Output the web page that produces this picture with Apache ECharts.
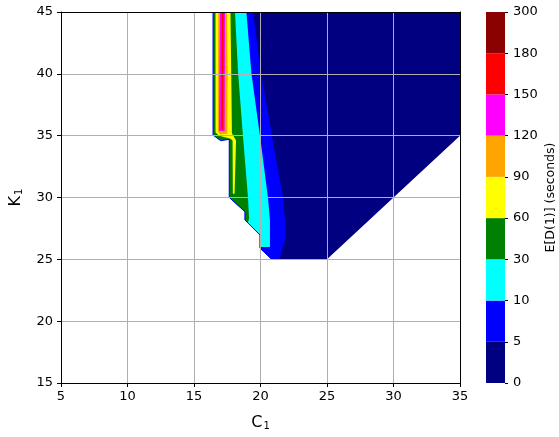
<!DOCTYPE html>
<html><head><meta charset="utf-8">
<script src="https://cdn.jsdelivr.net/npm/echarts@6/dist/echarts.min.js"></script>
<style>html,body{margin:0;padding:0;background:#fff}#c{width:559px;height:437px}</style>
</head><body><div id="c"></div>
<script>
// Colour levels of the filled contour (E[D(1)] in seconds)
const levelLabels = ['0','5','10','30','60','90','120','150','180','300'];
const bandColors = ['#000080','#0000ff','#00ffff','#008000','#ffff00','#ffa500','#ff00ff','#ff0000','#8b0000'];
const xTicks = [5,10,15,20,25,30,35];
const yTicks = [15,20,25,30,35,40,45];

// Feasible region (C1, K1) — outside it nothing is drawn
const domain = [[16.43,45],[16.43,35.05],[17.0,34.6],[17.65,34.7],[17.65,30.0],[18.83,28.85],[18.83,28.18],[19.96,26.97],[19.96,25.9],[20.84,25.0],[25,25],[35,35],[35,45]];
const leftEdge = domain.slice(0,10);

// Super-level sets: value >= 5, 10, 30, 60, 90, 120, 150
const band5   = [...leftEdge, [21.43,25],[21.6,25.75],[21.84,26.6],[21.84,28.2],[21.69,30],[20.86,35],[20.04,40],[19.44,45]];
const band10  = [...domain.slice(0,8), [19.96,26.0],[20.71,26.0],[20.71,28.2],[20.56,30],[19.96,35],[19.32,40],[18.94,45]];
const band30  = [...domain.slice(0,7), [19.05,27.94],[19.14,28.3],[19.06,30],[18.68,35],[18.32,40],[18.08,45]];
const band60  = [[16.62,45],[16.62,35.25],[16.9,35.0],[17.75,34.75],[17.9,34.6],[17.92,30.3],[18.05,30.3],[18.16,34.6],[17.85,35.2],[17.8,40],[17.74,45]];
const band90  = [[16.82,45],[16.78,35.35],[16.95,35.1],[17.5,35.15],[17.53,40],[17.48,45]];
const band120 = [[16.95,45],[16.88,35.4],[17.3,35.35],[17.32,40],[17.33,45]];
const band150 = [[17.08,45],[17.02,35.5],[17.17,35.5],[17.2,40],[17.22,45]];

const polys = [domain, band5, band10, band30, band60, band90, band120, band150];

const chart = echarts.init(document.getElementById('c'), null, {renderer:'canvas'});
const font = 'DejaVu Sans';
const gridLine = {show:true, lineStyle:{color:'#b0b0b0', width:1}};

const cbSeries = bandColors.map((c,i)=>({
  type:'bar', xAxisIndex:2, yAxisIndex:2, stack:'cb', barWidth:'100%',
  data:[1], itemStyle:{color:c}, silent:true, animation:false
}));

chart.setOption({
  animation:false,
  textStyle:{fontFamily:font},
  grid:[
    {left:61, top:12, width:399, height:371, outerBoundsMode:'none', containLabel:false},
    {left:486, top:12, width:19, height:371, outerBoundsMode:'none', containLabel:false}
  ],
  xAxis:[
    {type:'value', gridIndex:0, min:5, max:35, interval:5, z:10,
     axisLine:{show:true, onZero:false, lineStyle:{color:'#000', width:1}},
     axisTick:{show:true, length:4, lineStyle:{color:'#000'}},
     axisLabel:{color:'#000', fontSize:13, margin:7, fontFamily:font},
     splitLine:gridLine,
     name:'{a|C}{s|1}', nameLocation:'middle', nameGap:31,
     nameTextStyle:{rich:{a:{fontSize:16, color:'#000', fontFamily:font}, s:{fontSize:10, color:'#000', fontFamily:font, padding:[7,0,0,1]}}}},
    {type:'value', gridIndex:0, min:5, max:35, position:'top', z:10,
     axisLine:{show:true, onZero:false, lineStyle:{color:'#000', width:1}},
     axisTick:{show:false}, axisLabel:{show:false}, splitLine:{show:false}},
    {type:'category', gridIndex:1, data:['cb'], show:false}
  ],
  yAxis:[
    {type:'value', gridIndex:0, min:15, max:45, interval:5, z:10,
     axisLine:{show:true, onZero:false, lineStyle:{color:'#000', width:1}},
     axisTick:{show:true, length:4, lineStyle:{color:'#000'}},
     axisLabel:{color:'#000', fontSize:13, margin:8, fontFamily:font},
     splitLine:gridLine,
     name:'{a|K}{s|1}', nameLocation:'middle', nameGap:37, nameRotate:90,
     nameTextStyle:{rich:{a:{fontSize:16, color:'#000', fontFamily:font}, s:{fontSize:10, color:'#000', fontFamily:font, padding:[7,0,0,1]}}}},
    {type:'value', gridIndex:0, min:15, max:45, position:'right', z:10,
     axisLine:{show:true, onZero:false, lineStyle:{color:'#000', width:1}},
     axisTick:{show:false}, axisLabel:{show:false}, splitLine:{show:false}},
    {type:'value', gridIndex:1, min:0, max:9, interval:1, position:'right', z:10,
     axisLine:{show:false},
     axisTick:{show:true, length:3, lineStyle:{color:'#000'}},
     axisLabel:{color:'#000', fontSize:13, margin:8, fontFamily:font, formatter:v=>levelLabels[v]},
     splitLine:{show:false},
     name:'E[D(1)] (seconds)', nameLocation:'middle', nameGap:39, nameRotate:90,
     nameTextStyle:{fontSize:12.5, color:'#000', fontFamily:font}}
  ],
  series:[
    {type:'custom', xAxisIndex:0, yAxisIndex:0, clip:true, z:2, silent:true,
     data:polys.map((p,i)=>[i]),
     renderItem:(params, api)=>{
       const pts = polys[params.dataIndex].map(p=>api.coord(p));
       return {type:'polygon', shape:{points:pts}, style:{fill:bandColors[params.dataIndex], stroke:null}};
     }},
    {type:'custom', xAxisIndex:0, yAxisIndex:0, clip:true, z:3, silent:true,
     data:[[0]],
     renderItem:(params, api)=>{
       const pts = leftEdge.map(p=>api.coord(p));
       return {type:'polyline', shape:{points:pts}, style:{stroke:'#0000ff', lineWidth:1, fill:null}};
     }},
    ...cbSeries
  ]
});
</script></body></html>
